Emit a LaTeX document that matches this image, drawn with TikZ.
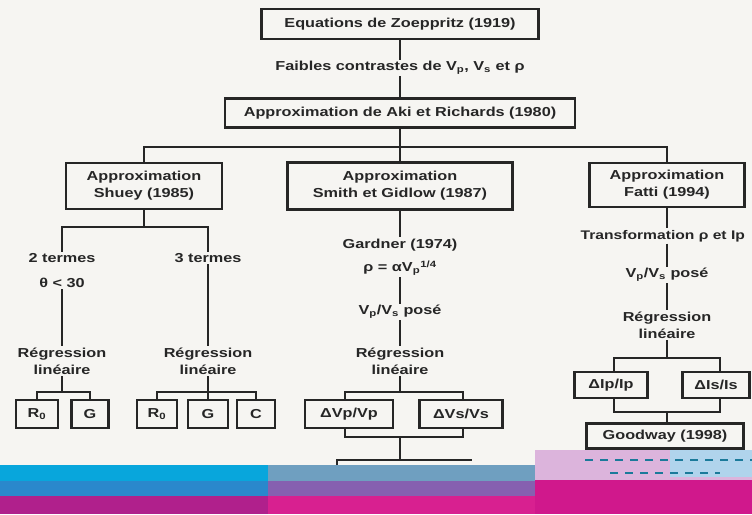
\documentclass[tikz,border=0pt]{standalone}
\usepackage{fontspec}
\setmainfont{Liberation Sans}[FakeStretch=1.25]
\definecolor{ink}{HTML}{262626}
\definecolor{paper}{HTML}{F6F5F2}
\definecolor{bcyan}{HTML}{08A6DC}
\definecolor{bblue}{HTML}{2A88CC}
\definecolor{bmag}{HTML}{B0208C}
\definecolor{mtop}{HTML}{6F9FC0}
\definecolor{mmid}{HTML}{8660B0}
\definecolor{mbot}{HTML}{D82090}
\definecolor{rlav}{HTML}{DCB4DC}
\definecolor{rblue}{HTML}{B0D4EC}
\definecolor{rmag}{HTML}{D0188C}
\definecolor{dteal}{HTML}{1A7A9A}
\begin{document}
\begin{tikzpicture}[x=1pt,y=-1pt,
  every node/.style={font=\fontsize{13}{17}\selectfont\bfseries, text=ink},
  bx/.style={draw=ink, line width=2.4pt, inner sep=2pt, align=center},
  sb/.style={bx, minimum height=28, inner sep=1pt},
  lb/.style={inner sep=1.5pt, align=center},
  ln/.style={draw=ink, line width=2.6pt}]
\useasboundingbox (0,0) rectangle (752,514);
\fill[paper] (0,0) rectangle (752,514);
\clip (0,0) rectangle (752,514);

% top
\node[bx, minimum width=277, minimum height=30] (zoe) at (400,24) {Equations de Zoeppritz (1919)};
\node[lb] (faib) at (400,68) {Faibles contrastes de V\textsubscript{p}, V\textsubscript{s} et ρ};
\node[bx, minimum width=350, minimum height=29] (aki) at (400,113) {Approximation de Aki et Richards (1980)};
\draw[ln] (zoe) -- (faib);
\draw[ln] (faib) -- (aki);

\node[bx, minimum width=156, minimum height=46] (shuey) at (144,186) {Approximation\\Shuey (1985)};
\node[bx, minimum width=225, minimum height=47] (smith) at (400,186) {Approximation\\Smith et Gidlow (1987)};
\node[bx, minimum width=155, minimum height=44] (fatti) at (667,185) {Approximation\\Fatti (1994)};
\coordinate (j0) at (400,147);
\draw[ln] (aki) -- (j0);
\draw[ln] (shuey.north) |- (j0) -| (fatti.north);
\draw[ln] (j0) -- (smith.north);

% Shuey branch
\node[lb] (t2) at (62,258) {2 termes};
\node[lb] (th) at (62,283) {θ < 30};
\node[lb] (t3) at (208,258) {3 termes};
\coordinate (j1) at (144,227);
\draw[ln] (shuey) -- (j1);
\draw[ln] (t2.north) |- (j1) -| (t3.north);
\node[lb] (rl1) at (62,361) {Régression\\linéaire};
\node[lb] (rl2) at (208,361) {Régression\\linéaire};
\draw[ln] (th) -- (rl1);
\draw[ln] (t3) -- (rl2);
\node[sb, minimum width=42] (r0a) at (37,414) {R\textsubscript{0}};
\node[sb, minimum width=37] (ga) at (90,414) {G};
\node[sb, minimum width=40] (r0b) at (157,414) {R\textsubscript{0}};
\node[sb, minimum width=40] (gb) at (208,414) {G};
\node[sb, minimum width=38] (cb) at (256,414) {C};
\coordinate (j2) at (62,392);
\coordinate (j3) at (208,392);
\draw[ln] (rl1) -- (j2);
\draw[ln] (r0a.north) |- (j2) -| (ga.north);
\draw[ln] (rl2) -- (j3);
\draw[ln] (r0b.north) |- (j3) -| (cb.north);
\draw[ln] (j3) -- (gb.north);

% Smith et Gidlow branch
\node[lb] (gard) at (400,245) {Gardner (1974)};
\node[lb] (rho) at (400,268) {ρ = αV\textsubscript{p}\textsuperscript{1/4}};
\node[lb] (pose1) at (400,312) {V\textsubscript{p}/V\textsubscript{s} posé};
\node[lb] (rl3) at (400,361) {Régression\\linéaire};
\draw[ln] (smith) -- (gard);
\draw[ln] (rho) -- (pose1);
\draw[ln] (pose1) -- (rl3);
\node[sb, minimum width=88] (dvp) at (349,414) {ΔVp/Vp};
\node[sb, minimum width=83] (dvs) at (461,414) {ΔVs/Vs};
\coordinate (j4) at (400,392);
\coordinate (j4l) at (345,392);
\coordinate (j4r) at (463,392);
\draw[ln] (rl3) -- (j4);
\draw[ln] (j4l |- dvp.north) -- (j4l) -- (j4r) -- (j4r |- dvs.north);
\coordinate (j5) at (400,437);
\coordinate (j5l) at (345,437);
\coordinate (j5r) at (463,437);
\draw[ln] (j5l |- dvp.south) -- (j5l) -- (j5r) -- (j5r |- dvs.south);
\coordinate (j6) at (400,460);
\coordinate (j6l) at (337,460);
\coordinate (j6r) at (472,460);
\coordinate (e1) at (337,470);
\draw[ln] (j5) -- (j6);
\draw[ln] (e1) -- (j6l) -- (j6r);

% Fatti branch
\node[lb, anchor=west, font=\fontsize{12.5}{17}\selectfont\bfseries] (trans) at (579,236) {Transformation ρ et Ip};
\draw[ln] (fatti.south) -- (fatti.south |- trans.north);
\node[lb] (pose2) at (667,275) {V\textsubscript{p}/V\textsubscript{s} posé};
\draw[ln] (pose2.north |- trans.south) -- (pose2);
\node[lb] (rl4) at (667,325) {Régression\\linéaire};
\draw[ln] (pose2) -- (rl4);
\node[sb, minimum width=73, minimum height=26] (dip) at (611,385) {ΔIp/Ip};
\node[sb, minimum width=67, minimum height=26] (dis) at (716,385) {ΔIs/Is};
\coordinate (k1) at (667,358);
\coordinate (k1l) at (614,358);
\coordinate (k1r) at (720,358);
\draw[ln] (rl4) -- (k1);
\draw[ln] (k1l |- dip.north) -- (k1l) -- (k1r) -- (k1r |- dis.north);
\coordinate (k2) at (667,412);
\coordinate (k2l) at (614,412);
\coordinate (k2r) at (720,412);
\draw[ln] (k2l |- dip.south) -- (k2l) -- (k2r) -- (k2r |- dis.south);
\node[bx, minimum width=157, minimum height=25] (good) at (665,436) {Goodway (1998)};
\draw[ln] (k2) -- (k2 |- good.north);

% damaged colour bands at the bottom
\fill[bcyan] (0,465) rectangle (268,481);
\fill[bblue] (0,481) rectangle (268,496);
\fill[bmag] (0,496) rectangle (268,514);
\fill[mtop] (268,465) rectangle (535,481);
\fill[mmid] (268,481) rectangle (535,496);
\fill[mbot] (268,496) rectangle (535,514);
\fill[rlav] (535,450) rectangle (752,480);
\fill[rblue] (670,450) rectangle (752,477);
\fill[rmag] (535,480) rectangle (752,514);
\draw[dteal, line width=2pt, dash pattern=on 8pt off 7pt] (585,460) -- (752,460);
\draw[dteal, line width=2pt, dash pattern=on 8pt off 7pt] (610,473) -- (720,473);
\end{tikzpicture}
\end{document}
